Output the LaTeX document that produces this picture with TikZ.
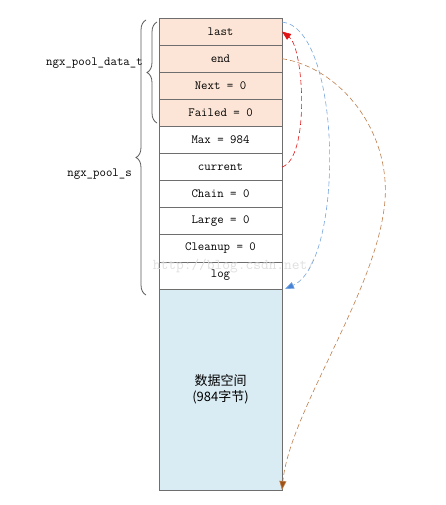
\documentclass[tikz,border=0pt]{standalone}
\usepackage{fontspec}
\usepackage{tikz}
\usetikzlibrary{arrows.meta,positioning,decorations.pathreplacing}
\newfontfamily\cjk{Noto Sans CJK SC}
\definecolor{HeadPeach}{RGB}{252, 229, 214}
\definecolor{DataBlue}{RGB}{218, 236, 243}
\definecolor{BoxLine}{RGB}{110, 110, 110}
\definecolor{PtrRed}{RGB}{224, 20, 20}
\definecolor{PtrBlue}{RGB}{120, 165, 220}
\definecolor{PtrBlueTip}{RGB}{70, 130, 215}
\definecolor{PtrBrown}{RGB}{190, 125, 75}
\definecolor{PtrBrownTip}{RGB}{160, 82, 20}
\tikzset{
  field/.style={draw=BoxLine, line width=0.7pt, minimum width=123pt, minimum height=27.1pt,
    inner sep=0pt, outer sep=0pt, font=\ttfamily\fontsize{12.5}{13}\selectfont},
  hdr/.style={field, fill=HeadPeach},
  ptr/.style={line width=0.6pt, dash pattern=on 5pt off 3pt},
  lbl/.style={font=\ttfamily\fontsize{12.5}{13}\selectfont, inner sep=0pt},
  curly/.style={draw=black!65, line width=0.8pt, decorate, decoration={brace, amplitude=10pt}}
}
\begin{document}
\begin{tikzpicture}[x=1pt, y=-1pt]
    \useasboundingbox (0,0) rectangle (446,505);

    % ngx_pool_data_t
    \node[hdr, anchor=north west] (last) at (159,18) {last};
    \node[hdr, below=0pt of last] (end) {end};
    \node[hdr, below=0pt of end] (next) {Next = 0};
    \node[hdr, below=0pt of next] (failed) {Failed = 0};

    % rest of ngx_pool_s
    \node[field, below=0pt of failed] (max) {Max = 984};
    \node[field, below=0pt of max] (current) {current};
    \node[field, below=0pt of current] (chain) {Chain = 0};
    \node[field, below=0pt of chain] (large) {Large = 0};
    \node[field, below=0pt of large] (cleanup) {Cleanup = 0};
    \node[field, below=0pt of cleanup] (log) {log};

    % data area
    \node[field, fill=DataBlue, minimum height=201pt, below=0pt of log, align=center,
      font=\cjk\fontsize{13}{16}\selectfont] (data) {数据空间\\(984字节)};

    % braces
    \draw[curly] (157,123) -- (157,22);
    \node[lbl, anchor=east] (datalbl) at (143,63) {ngx\_pool\_data\_t};
    \draw[curly] (146,295) -- (146,20);
    \node[lbl, anchor=east] (poollbl) at (132,174) {ngx\_pool\_s};

    % watermark
    \node[font=\ttfamily\fontsize{15}{15}\selectfont, text=gray!25, inner sep=0pt] (mark) at (234,266) {http://blog.csdn.net/};

    % current -> last
    \draw[ptr, PtrRed, -{Triangle[length=9pt, width=7pt]}]
      (current.east) .. controls (310,158) and (304,48) .. (last.east);
    % last -> start of data
    \draw[ptr, PtrBlue, -{Triangle[length=9pt, width=7pt, fill=PtrBlueTip]}]
      ([yshift=-4pt]last.north east) .. controls (342,28) and (345,262) .. ([xshift=3pt]data.north east);
    % end -> end of data
    \draw[ptr, PtrBrown, -{Triangle[length=9pt, width=7pt, fill=PtrBrownTip]}]
      (end.east) .. controls (340,68) and (390,130) .. (385,200)
      .. controls (378,290) and (290,410) .. (data.south east);
\end{tikzpicture}
\end{document}
